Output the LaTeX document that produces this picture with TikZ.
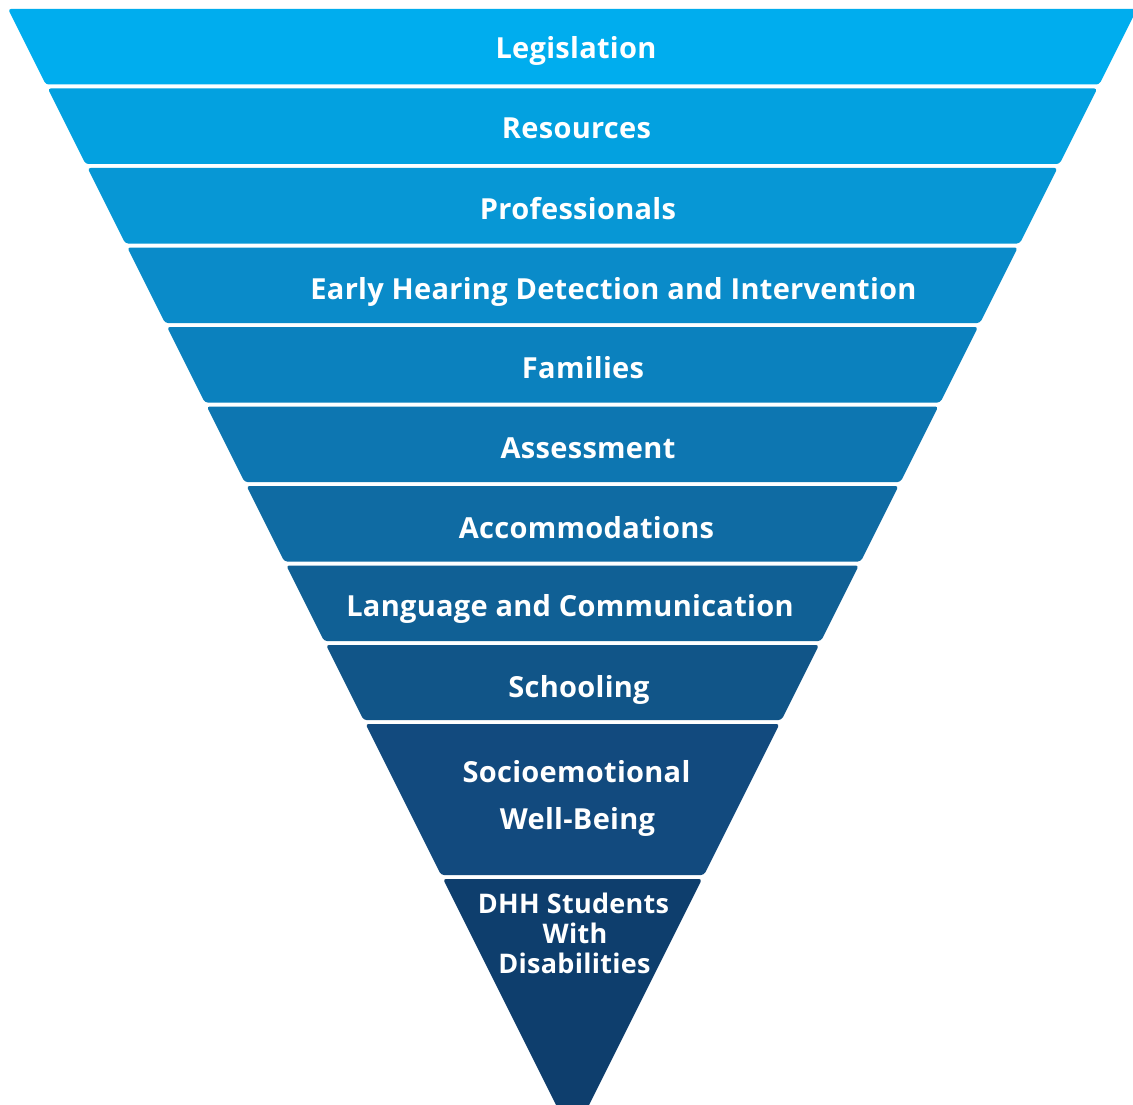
\documentclass[tikz,border=0pt]{standalone}
\usepackage{fontspec}
\setmainfont{Open Sans}
\newfontfamily\lblfont{Open Sans}[UprightFont=* Bold, Ligatures=NoCommon, LetterSpace=1]
\definecolor{b1}{HTML}{00ADEE}
\definecolor{b2}{HTML}{03A1E0}
\definecolor{b3}{HTML}{0797D5}
\definecolor{b4}{HTML}{0A8BC9}
\definecolor{b5}{HTML}{0B81BE}
\definecolor{b6}{HTML}{0D76B1}
\definecolor{b7}{HTML}{0F6BA3}
\definecolor{b8}{HTML}{106095}
\definecolor{b9}{HTML}{115588}
\definecolor{b10}{HTML}{124A7E}
\definecolor{b11}{HTML}{0E3E6D}
\newcommand\myband[3]{%
  \pgfmathsetmacro\lt{8+0.5*(#1-9)}%
  \pgfmathsetmacro\rt{1137-0.5*(#1-9)}%
  \pgfmathsetmacro\lb{8+0.5*(#2-9)}%
  \pgfmathsetmacro\rb{1137-0.5*(#2-9)}%
  \fill[#3, rounded corners=3] (\lt,#1) -- (\rt,#1) -- (\rb,#2) -- (\lb,#2) -- cycle;
}
\tikzset{lbl/.style={text=white, font=\lblfont\fontsize{29}{31}\selectfont, anchor=base, inner sep=0pt},
  lblsm/.style={lbl, font=\lblfont\fontsize{27}{29}\selectfont}}
\begin{document}
\begin{tikzpicture}[x=1pt,y=-1pt]
\useasboundingbox (0,0) rectangle (1133,1105);
\clip (0,0) rectangle (1133,1105);
\fill[white] (0,0) rectangle (1133,1105);
\myband{9}{84.5}{b1}
\myband{88.5}{164}{b2}
\myband{168}{243.5}{b3}
\myband{247.5}{323}{b4}
\myband{327}{402.5}{b5}
\myband{406.5}{482}{b6}
\myband{486}{561.5}{b7}
\myband{565.5}{641}{b8}
\myband{645}{720}{b9}
\myband{724}{875}{b10}
\myband{879}{1138}{b11}
\node[lbl] (legislation) at (576,59) {Legislation};
\node[lbl] (resources) at (576.5,139) {Resources};
\node[lbl] (professionals) at (578,219) {Professionals};
\node[lbl] (ehdi) at (613.5,299) {Early Hearing Detection and Intervention};
\node[lbl] (families) at (583,378) {Families};
\node[lbl] (assessment) at (588,458) {Assessment};
\node[lbl] (accommodations) at (586.5,538) {Accommodations};
\node[lbl] (language) at (570,616) {Language and Communication};
\node[lbl] (schooling) at (579,697) {Schooling};
\node[lbl] (socio) at (576.5,782) {Socioemotional};
\node[lbl] (wellbeing) at (577.5,829) {Well-Being};
\node[lblsm] (dhh) at (573.5,913) {DHH Students};
\node[lblsm] (with) at (575,943) {With};
\node[lblsm] (disab) at (574.5,973) {Disabilities};
\end{tikzpicture}
\end{document}
